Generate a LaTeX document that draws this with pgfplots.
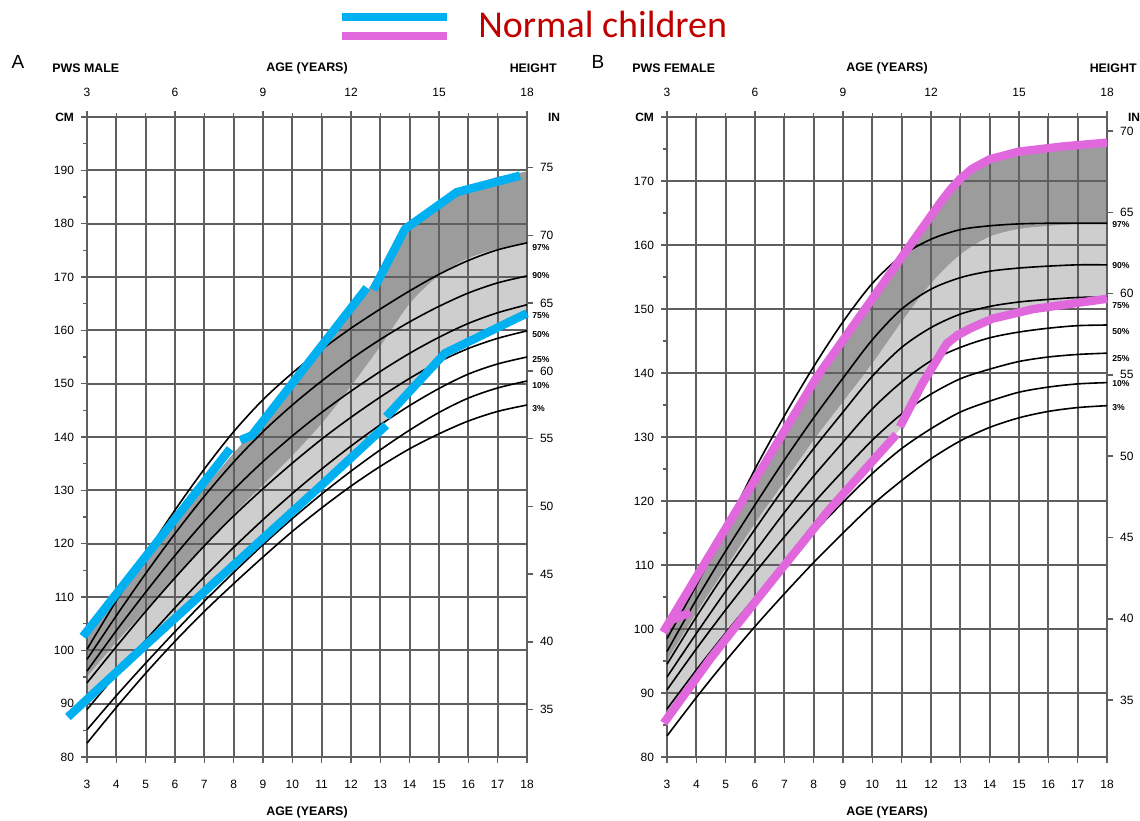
\documentclass[border=0pt]{standalone}
\usepackage{fontspec}
\setmainfont{Liberation Sans}
\newfontfamily\calibri{Carlito}
\usepackage{pgfplots}
\pgfplotsset{compat=1.18}
\usepackage{pgfplotstable}
\usepackage{xcolor}

\definecolor{normblue}{RGB}{0,176,240}
\definecolor{normpink}{RGB}{224,104,220}
\definecolor{darkshade}{RGB}{156,156,156}
\definecolor{lightshade}{RGB}{206,206,206}
\definecolor{gridcol}{RGB}{95,95,95}
\definecolor{titlered}{RGB}{192,0,0}

% PWS height percentiles (cm), p3..p97, and normal-children band n3/n50/n97
\pgfplotstableread{
age p3 p10 p25 p50 p75 p90 p97 n3 n50 n97
3 82.6 85.1 88.9 93.9 96.1 98.3 100.2 89.5 95.0 102.5
4 89.3 91.5 95.5 100.7 103.7 106.5 109.3 95.3 101.5 109.5
5 95.7 97.6 101.9 107.3 110.9 114.4 118.0 100.8 107.5 116.5
6 101.7 103.5 108.0 113.6 117.8 121.9 126.3 106.2 113.5 123.5
7 107.3 109.2 113.8 119.6 124.2 128.9 134.0 111.4 119.5 130.5
8 112.5 114.6 119.3 125.2 130.1 135.3 141.0 116.5 125.5 137.0
9 117.5 119.8 124.5 130.3 135.4 141.0 147.0 121.5 131.0 143.0
10 122.3 124.7 129.4 135.1 140.2 146.0 152.0 126.3 136.5 149.5
11 126.7 129.3 134.0 139.6 144.6 150.5 156.4 131.0 142.5 156.0
12 130.8 133.6 138.3 143.7 148.6 154.6 160.4 136.0 149.5 163.0
13 134.5 137.6 142.3 147.5 152.3 158.3 164.0 142.0 157.0 171.0
14 137.8 141.3 145.9 151.0 155.7 161.6 167.4 148.5 165.0 179.0
15 140.6 144.6 149.1 154.1 158.7 164.5 170.5 154.5 170.3 184.0
16 143.0 147.3 151.8 156.6 161.3 167.0 173.1 158.5 173.5 187.0
17 144.8 149.2 153.7 158.5 163.3 168.9 175.1 161.0 175.3 188.8
18 146.0 150.5 155.0 159.9 164.8 170.2 176.4 163.0 176.4 189.8
}\male

\pgfplotstableread{
age p3 p10 p25 p50 p75 p90 p97 n3 n50 n97
3 83.3 87.5 90.5 92.5 94.5 96.5 98.5 87.0 95.0 101.0
4 89.3 93.6 96.9 99.3 101.9 104.6 106.8 93.0 102.5 108.5
5 95.0 99.4 103.0 105.9 108.9 112.2 115.8 99.0 109.5 116.0
6 100.4 104.9 108.8 112.1 115.6 119.4 125.0 104.8 116.5 123.5
7 105.5 110.1 114.4 118.2 122.1 126.4 133.3 110.3 123.0 131.0
8 110.4 115.1 119.7 123.9 128.2 133.0 141.0 115.8 129.5 138.5
9 115.0 119.8 124.7 129.2 133.9 139.2 148.0 121.0 135.5 145.3
10 119.4 124.3 129.5 134.4 139.5 145.2 154.0 126.0 141.5 151.6
11 123.2 128.2 133.6 138.6 144.0 150.0 158.3 131.5 148.0 158.0
12 126.6 131.3 136.7 141.9 147.1 153.1 160.9 140.5 154.0 164.5
13 129.4 133.9 139.1 144.0 149.2 154.9 162.4 146.0 158.5 170.0
14 131.5 135.6 140.6 145.5 150.4 155.9 163.0 148.3 161.3 173.0
15 133.0 137.0 141.8 146.4 151.1 156.4 163.3 149.5 162.5 174.3
16 134.0 137.8 142.5 147.0 151.5 156.7 163.4 150.4 163.0 175.0
17 134.6 138.3 142.9 147.4 151.8 156.9 163.4 151.0 163.3 175.5
18 134.9 138.5 143.1 147.5 151.9 156.9 163.4 151.5 163.4 175.8
}\female

\pgfplotsset{
  chartbase/.style={
    scale only axis, width=220pt, height=320pt,
    xmin=3, xmax=18,
    tick align=outside,
    tick style={gridcol, line width=0.8pt},
    major tick length=3pt, minor tick length=2pt,
    ticklabel style={font=\fontsize{6}{7}\selectfont},
    /pgf/number format/assume math mode=true,
  },
  mainaxis/.style={
    chartbase, set layers, clip=false,
    axis x line*=bottom, axis y line*=left,
    axis line style={gridcol, line width=1pt},
    xtick={3,...,18}, minor y tick num=1,
    grid=major, major grid style={gridcol, line width=1pt},
    xticklabel style={yshift=-5pt},
  },
  inchaxis/.style={
    chartbase,
    axis x line*=top, axis y line*=right, axis line style={draw=none},
    xtick={3,6,...,18}, minor x tick num=2,
    ytick={35,40,...,75},
    xticklabel style={yshift=3.5pt},
  },
  band/.style={draw=none, on layer=axis background},
  pws/.style={black, line width=0.8pt, smooth},
  norm/.style={line width=4.2pt},
}
\tikzset{
  pct/.style={anchor=west, xshift=2.5pt, inner sep=0pt, font=\bfseries\fontsize{4.3}{5}\selectfont},
}

\begin{document}
\begin{tikzpicture}

% ---------------- A: PWS male ----------------
\begin{axis}[mainaxis, at={(43.5pt,-378.5pt)}, anchor=south west,
  ymin=80, ymax=200, ytick={80,90,...,200},
  yticklabels={80,90,100,110,120,130,140,150,160,170,180,190,\textbf{CM}}]
\addplot[band, fill=darkshade] table[x=age,y=n97]{\male} -- (axis cs:18,80) -- (axis cs:3,80) -- cycle;
\addplot[band, fill=lightshade, smooth] table[x=age,y=n50]{\male} -- (axis cs:18,80) -- (axis cs:3,80) -- cycle;
\addplot[band, fill=white] table[x=age,y=n3]{\male} -- (axis cs:18,80) -- (axis cs:3,80) -- cycle;
\foreach \p in {p3,p10,p25,p50,p75,p90,p97}{
  \addplot[pws] table[x=age,y=\p]{\male};
}
\addplot[norm, normblue] coordinates {(2.86,102.6) (7.88,137.8)};
\addplot[norm, normblue] coordinates {(8.22,139.4) (8.62,140.3) (12.54,168.0)};
\addplot[norm, normblue] coordinates {(12.76,167.6) (13.84,179.0) (15.6,185.9) (17.76,189.0)};
\addplot[norm, normblue] coordinates {(2.35,87.5) (5,101) (8,116) (11,131) (13.2,142.2)};
\addplot[norm, normblue] coordinates {(13.2,143.8) (15.2,155.7) (18.0,163.2)};
\node[pct] at (axis cs:18,175.5) {97\%};
\node[pct] at (axis cs:18,170.2) {90\%};
\node[pct] at (axis cs:18,162.7) {75\%};
\node[pct] at (axis cs:18,159.3) {50\%};
\node[pct] at (axis cs:18,154.6) {25\%};
\node[pct] at (axis cs:18,149.7) {10\%};
\node[pct] at (axis cs:18,145.4) {3\%};
\node[anchor=west, xshift=7pt, font=\bfseries\fontsize{6}{7}\selectfont] at (axis cs:18,200) {IN};
\end{axis}
\begin{axis}[inchaxis, at={(43.5pt,-378.5pt)}, anchor=south west,
  ymin=31.4961, ymax=78.7402]
\addplot[draw=none] coordinates {(3,35) (18,75)};
\end{axis}

% ---------------- B: PWS female ----------------
\begin{axis}[mainaxis, at={(333.5pt,-378.5pt)}, anchor=south west,
  ymin=80, ymax=180, ytick={80,90,...,180},
  yticklabels={80,90,100,110,120,130,140,150,160,170,\textbf{CM}}]
\addplot[band, fill=darkshade] table[x=age,y=n97]{\female} -- (axis cs:18,80) -- (axis cs:3,80) -- cycle;
\addplot[band, fill=lightshade, smooth] table[x=age,y=n50]{\female} -- (axis cs:18,80) -- (axis cs:3,80) -- cycle;
\addplot[band, fill=white] table[x=age,y=n3]{\female} -- (axis cs:18,80) -- (axis cs:3,80) -- cycle;
\foreach \p in {p3,p10,p25,p50,p75,p90,p97}{
  \addplot[pws] table[x=age,y=\p]{\female};
}
\addplot[norm, normpink] coordinates {(2.87,99.5) (8.1,139.3) (10.94,157.7) (12.3,166.5) (12.65,168.6) (12.99,170.3) (13.4,171.9) (14.0,173.4) (15.0,174.6) (16.5,175.4) (18.0,176.0)};
\addplot[norm, normpink] coordinates {(3.1,101.3) (3.8,102.6)};
\addplot[norm, normpink] coordinates {(2.89,85.3) (4.5,95.5) (6.17,105.2) (8.5,118.5) (10.82,130.4)};
\addplot[norm, normpink] coordinates {(10.94,131.6) (11.7,138.3) (12.54,144.6) (12.9,145.9) (13.4,147.1) (14.1,148.5) (15.5,150.0) (18.0,151.6)};
\node[pct] at (axis cs:18,163.2) {97\%};
\node[pct] at (axis cs:18,156.8) {90\%};
\node[pct] at (axis cs:18,150.6) {75\%};
\node[pct] at (axis cs:18,146.5) {50\%};
\node[pct] at (axis cs:18,142.3) {25\%};
\node[pct] at (axis cs:18,138.4) {10\%};
\node[pct] at (axis cs:18,134.6) {3\%};
\node[anchor=west, xshift=7pt, font=\bfseries\fontsize{6}{7}\selectfont] at (axis cs:18,180) {IN};
\end{axis}
\begin{axis}[inchaxis, at={(333.5pt,-378.5pt)}, anchor=south west,
  ymin=31.4961, ymax=70.8661]
\addplot[draw=none] coordinates {(3,35) (18,70)};
\end{axis}

% ---------------- headings ----------------
\begin{scope}[every node/.style={inner sep=0pt}]
\node[font=\fontsize{9.5}{11}\selectfont] at (9pt,-31pt) {A};
\node[font=\fontsize{9.5}{11}\selectfont] at (299pt,-31pt) {B};
\node[anchor=west, font=\bfseries\fontsize{6.2}{7}\selectfont] at (26pt,-34pt) {PWS MALE};
\node[font=\bfseries\fontsize{6.2}{7}\selectfont] at (153.5pt,-34pt) {AGE (YEARS)};
\node[anchor=east, font=\bfseries\fontsize{6.2}{7}\selectfont] at (278.5pt,-34pt) {HEIGHT};
\node[anchor=west, font=\bfseries\fontsize{6.2}{7}\selectfont] at (316pt,-34pt) {PWS FEMALE};
\node[font=\bfseries\fontsize{6.2}{7}\selectfont] at (443.5pt,-34pt) {AGE (YEARS)};
\node[anchor=east, font=\bfseries\fontsize{6.2}{7}\selectfont] at (568.5pt,-34pt) {HEIGHT};
\node[font=\bfseries\fontsize{6.2}{7}\selectfont] at (153.5pt,-406pt) {AGE (YEARS)};
\node[font=\bfseries\fontsize{6.2}{7}\selectfont] at (443.5pt,-406pt) {AGE (YEARS)};
% legend
\draw[normblue, line width=4pt] (171pt,-8.6pt) -- (223.5pt,-8.6pt);
\draw[normpink, line width=4pt] (171pt,-17.9pt) -- (223.5pt,-17.9pt);
\node[anchor=west, font=\calibri\fontsize{19}{22}\selectfont, text=titlered] at (239pt,-12pt) {Normal children};
\end{scope}
\pgfresetboundingbox
\useasboundingbox (0,0) rectangle (570pt,-410pt);
\end{tikzpicture}
\end{document}
